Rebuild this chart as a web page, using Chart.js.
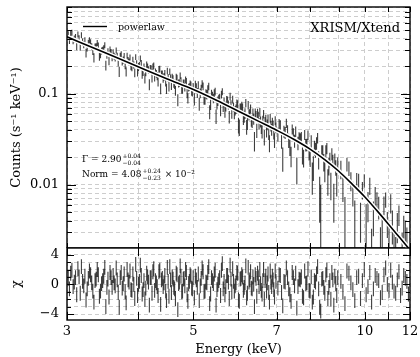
<!DOCTYPE html>
<html><head><meta charset="utf-8">
<script src="https://cdn.jsdelivr.net/npm/chart.js@4.4.1/dist/chart.umd.min.js"></script>
<style>
html,body{margin:0;padding:0;background:#fff;width:420px;height:357px;overflow:hidden}
#bot{position:absolute;left:0;top:240px}
#top{position:absolute;left:0;top:0}
</style></head><body>
<canvas id="bot" width="420" height="117"></canvas>
<canvas id="top" width="420" height="248"></canvas>
<script>
// ---- data; bins listed as two interleaved channel groups ----
const energy = [3.015,3.045,3.075,3.105,3.135,3.165,3.195,3.225,3.255,3.285,3.315,3.345,3.375,3.405,3.435,3.465,3.495,3.525,3.555,3.585,3.615,3.645,3.675,3.705,3.735,3.765,3.795,3.825,3.855,3.885,3.915,3.945,3.975,4.005,4.035,4.065,4.095,4.125,4.155,4.185,4.215,4.245,4.275,4.305,4.335,4.365,4.395,4.425,4.455,4.485,4.515,4.545,4.575,4.605,4.635,4.665,4.695,4.725,4.755,4.785,4.815,4.845,4.875,4.905,4.935,4.965,4.995,
5.02,5.06,5.10,5.14,5.18,5.22,5.26,5.30,5.34,5.38,5.42,5.46,5.50,5.54,5.58,5.62,5.66,5.70,5.74,5.78,5.82,5.86,5.90,5.94,5.98,6.02,6.06,6.10,6.14,6.18,6.22,6.26,6.30,6.34,6.38,6.42,6.46,6.50,6.54,6.58,6.62,6.66,6.70,6.74,6.78,6.82,6.86,6.90,6.94,6.98,
7.035,7.105,7.175,7.245,7.315,7.385,7.455,7.525,7.595,7.665,7.735,7.805,7.875,7.945,8.015,8.085,8.155,8.225,8.295,8.365,8.435,8.505,8.575,8.645,8.715,8.785,8.855,8.925,
9.075,9.225,9.375,9.525,9.675,9.825,9.975,10.125,10.275,10.425,10.575,10.725,10.875,11.025,11.175,11.325,11.475,11.625,11.775,11.925,
3.03,3.06,3.09,3.12,3.15,3.18,3.21,3.24,3.27,3.30,3.33,3.36,3.39,3.42,3.45,3.48,3.51,3.54,3.57,3.60,3.63,3.66,3.69,3.72,3.75,3.78,3.81,3.84,3.87,3.90,3.93,3.96,3.99,4.02,4.05,4.08,4.11,4.14,4.17,4.20,4.23,4.26,4.29,4.32,4.35,4.38,4.41,4.44,4.47,4.50,4.53,4.56,4.59,4.62,4.65,4.68,4.71,4.74,4.77,4.80,4.83,4.86,4.89,4.92,4.95,4.98,
5.04,5.08,5.12,5.16,5.20,5.24,5.28,5.32,5.36,5.40,5.44,5.48,5.52,5.56,5.60,5.64,5.68,5.72,5.76,5.80,5.84,5.88,5.92,5.96,6.00,6.04,6.08,6.12,6.16,6.20,6.24,6.28,6.32,6.36,6.40,6.44,6.48,6.52,6.56,6.60,6.64,6.68,6.72,6.76,6.80,6.84,6.88,6.92,6.96,
7.07,7.14,7.21,7.28,7.35,7.42,7.49,7.56,7.63,7.70,7.77,7.84,7.91,7.98,8.05,8.12,8.19,8.26,8.33,8.40,8.47,8.54,8.61,8.68,8.75,8.82,8.89,8.96,
9.15,9.30,9.45,9.60,9.75,9.90,10.05,10.20,10.35,10.50,10.65,10.80,10.95,11.10,11.25,11.40,11.55,11.70,11.85];

const rate = [0.448,0.462,0.386,0.419,0.449,0.329,0.372,0.385,0.323,0.387,0.331,0.249,0.330,0.339,0.273,0.303,0.342,0.267,0.229,0.286,0.286,0.249,0.261,0.175,0.272,0.235,0.207,0.263,0.224,0.200,0.236,0.170,0.216,0.198,0.244,0.165,0.196,0.174,0.197,0.127,0.188,0.198,0.153,0.166,0.136,0.187,0.164,0.147,0.167,0.114,0.150,0.175,0.124,0.146,0.126,0.152,0.0857,0.131,0.139,0.112,0.131,0.143,0.101,0.117,0.128,0.106,0.120,
0.0877,0.1171,0.1245,0.1015,0.1284,0.0872,0.1003,0.1126,0.0634,0.0998,0.0891,0.1057,0.0771,0.0872,0.0660,0.1053,0.0808,0.0727,0.0843,0.0557,0.0764,0.0865,0.0603,0.0679,0.0766,0.0431,0.0693,0.0695,0.0564,0.0790,0.0477,0.0586,0.0682,0.0495,0.0530,0.0615,0.0396,0.0563,0.0627,0.0426,0.0504,0.0333,0.0524,0.0458,0.0371,0.0538,0.0404,0.0450,0.0310,0.0422,
0.0359,0.0451,0.0197,0.0373,0.0395,0.0259,0.0407,0.0304,0.0149,0.0329,0.0333,0.0198,0.0274,0.0350,0.0207,0.0126,0.0256,0.0287,0.0189,0.00577,0.0230,0.0144,0.0251,0.0161,0.0101,0.0180,0.0189,0.0104,
0.01482,0.00427,0.01517,0.00823,0.01106,0.00429,0.0111,0.00605,0.00126,0.00759,0.00571,0.00281,0.00685,0.00228,0.00368,0.00135,0.00469,0.00187,0.00298,0.00083,
0.390,0.471,0.403,0.334,0.407,0.443,0.349,0.281,0.362,0.368,0.295,0.328,0.362,0.257,0.296,0.315,0.205,0.291,0.306,0.252,0.260,0.300,0.221,0.260,0.225,0.259,0.175,0.233,0.251,0.196,0.207,0.253,0.173,0.204,0.215,0.175,0.148,0.208,0.183,0.190,0.150,0.203,0.173,0.157,0.186,0.114,0.165,0.154,0.135,0.178,0.120,0.149,0.152,0.130,0.108,0.148,0.130,0.158,0.112,0.131,0.118,0.137,0.0896,0.119,0.125,0.104,
0.1251,0.1027,0.0775,0.1127,0.1209,0.0874,0.0980,0.1203,0.0770,0.0944,0.1017,0.0566,0.0833,0.0902,0.0979,0.0724,0.0635,0.0853,0.0755,0.0935,0.0614,0.0717,0.0654,0.0782,0.0454,0.0692,0.0729,0.0536,0.0608,0.0433,0.0751,0.0604,0.0508,0.0610,0.0305,0.0573,0.0611,0.0474,0.0492,0.0389,0.0598,0.0491,0.0393,0.0529,0.0288,0.0444,0.0484,0.0371,0.0506,
0.0464,0.0307,0.0385,0.0475,0.0307,0.0208,0.0365,0.0384,0.0287,0.0320,0.0211,0.0353,0.0275,0.0225,0.0298,0.0157,0.0243,0.0326,0.0080,0.0230,0.0178,0.0234,0.0111,0.0189,0.0218,0.0070,0.0155,0.0171,
0.00962,0.01683,0.01103,0.00428,0.01097,0.00876,0.00380,0.00975,0.00460,0.00653,0.00189,0.00599,0.00377,0.00631,0.00184,0.00356,0.00082,0.00354,0.00247];

const rateErr = [0.038,0.037,0.036,0.035,0.034,0.033,0.032,0.032,0.031,0.030,0.029,0.029,0.028,0.027,0.027,0.026,0.026,0.025,0.024,0.024,0.023,0.023,0.022,0.022,0.021,0.021,0.021,0.020,0.020,0.019,0.019,0.018,0.018,
0.0198,0.0194,0.0190,0.0186,0.0183,0.0179,0.0176,0.0172,0.0169,0.0166,0.0163,0.0160,0.0157,0.0155,0.0152,0.0149,0.0146,0.0144,0.0141,0.0139,0.0137,0.0134,0.0132,0.0130,0.0128,0.0125,0.0123,0.0121,0.0119,0.0117,0.0115,0.0114,0.0112,0.0110,
0.0134,0.0131,0.0128,0.0125,0.0122,0.0119,0.0116,0.0113,0.0111,0.0108,0.0106,0.0103,0.0101,0.0099,0.0097,0.0095,0.0093,0.0090,0.0088,0.0087,0.0085,0.0083,0.0081,0.0080,0.0078,
0.0089,0.0087,0.0085,0.0084,0.0082,0.0080,0.0079,0.0077,0.0076,0.0074,0.0073,0.0071,0.0070,0.0069,0.0067,0.0066,0.0065,0.0064,0.0062,0.0061,0.0060,0.0059,0.0058,0.0057,0.0056,
0.0062,0.0060,0.0059,0.0057,0.0055,0.0053,0.0052,0.0050,0.0049,0.0047,0.0046,0.0044,0.0043,0.0042,
0.0051,0.0049,0.0047,0.0045,0.0043,0.0041,0.0040,0.0038,0.0036,0.0035,0.0034,0.0032,0.0031,0.0030,
0.0034,0.0030,0.0028,0.0025,0.0023,0.0020,0.0019,0.0022,0.0020,0.0018,0.0016,0.0015,0.0013,0.0016,0.0015,0.0013,0.0012,0.0011,0.0010,0.0009,
0.037,0.036,0.035,0.034,0.034,0.033,0.032,0.031,0.030,0.030,0.029,0.028,0.028,0.027,0.026,0.026,0.025,0.025,0.024,0.024,0.023,0.023,0.022,0.022,0.021,0.021,0.020,0.020,0.019,0.019,0.019,0.018,0.018,
0.0196,0.0192,0.0188,0.0185,0.0181,0.0178,0.0174,0.0171,0.0168,0.0165,0.0162,0.0159,0.0156,0.0153,0.0151,0.0148,0.0145,0.0143,0.0140,0.0138,0.0136,0.0133,0.0131,0.0129,0.0127,0.0125,0.0122,0.0120,0.0118,0.0116,0.0115,0.0113,0.0111,
0.0133,0.0129,0.0126,0.0123,0.0120,0.0118,0.0115,0.0112,0.0109,0.0107,0.0105,0.0102,0.0100,0.0098,0.0096,0.0094,0.0092,0.0090,0.0087,0.0086,0.0084,0.0082,0.0080,0.0079,
0.0090,0.0088,0.0086,0.0085,0.0083,0.0081,0.0080,0.0078,0.0076,0.0075,0.0074,0.0072,0.0071,0.0069,0.0068,0.0067,0.0065,0.0064,0.0063,0.0062,0.0061,0.0060,0.0059,0.0058,0.0057,
0.0061,0.0060,0.0058,0.0056,0.0054,0.0053,0.0051,0.0050,0.0048,0.0047,0.0045,0.0044,0.0043,0.0041,
0.0050,0.0048,0.0046,0.0044,0.0042,0.0040,0.0039,0.0037,0.0036,0.0034,0.0033,0.0032,0.0030,0.0029,
0.0032,0.0029,0.0026,0.0024,0.0022,0.0019,0.0023,0.0021,0.0019,0.0017,0.0015,0.0014,0.0012,0.0015,0.0014,0.0013,0.0011,0.0010,0.0009];

const chi = [0.8,1.5,-0.3,0.9,2.1,-1.2,0.4,1.1,-0.6,1.8,0.2,-2.4,0.7,1.3,-0.9,0.5,2.3,-0.4,-1.7,0.9,
1.2,-0.2,0.6,-3.1,1.6,0.1,-1.0,2.0,0.3,-0.7,1.4,-1.9,0.8,0.0,2.6,-1.3,0.5,-0.5,1.0,-2.8,
0.9,1.7,-0.8,0.2,-1.5,1.9,0.6,-0.3,1.2,-2.2,0.4,2.4,-1.1,0.7,-0.6,1.5,-3.4,0.3,1.1,-0.9,
0.8,2.0,-1.4,0.1,1.3,-0.5,0.9,
-1.8,0.6,1.4,-0.2,2.2,-1.0,0.3,1.6,-2.6,0.9,0.1,1.9,-0.7,0.5,-1.5,2.8,0.4,-0.3,1.2,-1.9,
0.7,2.1,-0.9,0.2,1.5,-2.3,0.8,1.0,-0.4,2.5,-1.2,0.3,1.7,-0.6,0.0,1.3,-1.6,0.9,2.0,-0.8,
0.5,-2.0,1.1,0.2,-1.1,1.8,-0.3,0.6,-1.7,0.4,
-0.5,1.2,-2.9,0.3,0.9,-1.4,1.6,-0.2,-3.2,0.7,1.0,-1.8,0.1,2.1,-0.9,-2.4,0.5,1.4,-0.6,-3.6,
0.8,-1.2,1.9,-0.4,-2.0,0.6,1.1,-1.5,
0.4,-2.6,1.5,-0.7,0.9,-1.9,2.0,-0.3,-2.4,1.2,0.5,-1.1,2.2,-0.8,0.3,-1.2,1.7,-0.5,0.8,-1.3,
-0.6,1.9,0.3,-1.4,1.0,2.4,-0.2,-2.1,0.8,1.3,-0.9,0.5,2.0,-1.6,0.1,1.1,-3.0,0.7,1.6,-0.4,
0.2,2.2,-1.1,0.9,-0.5,1.4,-2.5,0.6,1.8,-0.8,0.0,2.7,-1.5,0.4,1.2,-0.7,-2.0,1.5,0.3,0.9,
-1.2,2.1,0.5,-0.3,1.7,-2.7,0.8,0.2,-0.9,2.3,-1.6,0.6,1.0,-0.4,-1.9,1.3,0.1,2.5,-1.0,0.7,
-0.2,1.6,-2.3,0.4,1.1,-0.6,
1.1,-0.4,-2.2,0.8,1.7,-0.9,0.2,2.4,-1.3,0.5,1.4,-2.8,0.0,0.9,1.9,-0.6,-1.4,1.2,0.3,2.6,
-1.0,0.4,-0.2,1.6,-2.1,0.7,1.3,-0.8,0.2,-1.8,2.3,0.6,-0.5,1.0,-3.0,0.8,1.5,-0.3,0.1,-1.3,
2.0,0.5,-0.9,1.4,-2.4,0.3,1.1,-0.7,1.8,
1.3,-1.1,0.4,2.2,-0.6,-2.3,0.9,1.5,-0.3,0.6,-1.6,1.8,0.2,-0.8,1.0,-1.7,0.3,2.4,-3.1,0.7,
-0.4,1.3,-1.9,0.5,1.6,-2.8,0.1,0.9,
-1.0,1.8,0.2,-2.2,1.1,0.5,-1.4,1.6,-0.6,0.8,-1.8,1.3,0.0,1.9,-0.9,0.6,-1.5,1.2,0.4];

const modelEnergy = [3.0,3.5,4.0,4.5,5.0,5.5,6.0,6.5,7.0,7.5,8.0,8.5,9.0,9.5,10.0,10.5,11.0,11.5,12.0];
const modelRate   = [0.423,0.2815,0.198,0.145,0.111,0.0841,0.0641,0.0499,0.0396,0.0315,0.0247,0.0188,0.0140,0.0101,0.0073,0.00516,0.00366,0.00262,0.0019];

const xTickValues  = [3,4,5,6,7,8,9,10,11,12];
const xLabelValues = [3,5,7,10,12];
const yTickValues  = [0.002,0.003,0.004,0.005,0.006,0.007,0.008,0.009,0.01,0.02,0.03,0.04,0.05,0.06,0.07,0.08,0.09,0.1,0.2,0.3,0.4,0.5,0.6,0.7,0.8,0.9];
const yLabelValues = [0.01,0.1];
const yLabels      = ['0.01','0.1'];
const chiTickValues  = [-4,-3,-2,-1,0,1,2,3,4];
const chiLabelValues = [-4,0,4];
const chiLabels      = ['\u22124','0','4'];

// ---- helpers ----
const FONT = "'DejaVu Serif', serif";
Chart.defaults.font.family = FONT;
Chart.defaults.color = '#000';

function bars(lo, hi){
  const out = [];
  for (let i = 0; i < energy.length; i++){
    out.push({x: energy[i], y: lo[i]}, {x: energy[i], y: hi[i]}, {x: energy[i], y: null});
  }
  return out;
}
function near(a, b){ return Math.abs(a - b) < 1e-9; }
function labelFor(vals, labels){
  return v => { const i = vals.findIndex(t => near(t, v)); return i >= 0 ? labels[i] : ''; };
}
function setTicks(vals){ return s => { s.ticks = vals.map(v => ({value: v})); }; }

const frameTicks = {
  id: 'frameTicks',
  afterDraw(chart, args, o){
    const {ctx, chartArea: a, scales} = chart;
    ctx.save();
    ctx.strokeStyle = '#000';
    ctx.lineWidth = 1;
    const ln = (x1,y1,x2,y2) => { ctx.beginPath(); ctx.moveTo(x1,y1); ctx.lineTo(x2,y2); ctx.stroke(); };
    o.xTicks.forEach(v => {
      const p = Math.round(scales.x.getPixelForValue(v)) + 0.5;
      ln(p, a.top, p, a.top + o.xLen); ln(p, a.bottom, p, a.bottom - o.xLen);
    });
    o.yTicks.forEach(v => {
      const p = Math.round(scales.y.getPixelForValue(v)) + 0.5;
      const L = o.yMajor.some(m => near(m, v)) ? o.yLong : o.yShort;
      ln(a.left, p, a.left + L, p); ln(a.right, p, a.right - L, p);
    });
    ctx.lineWidth = 1.4;
    ctx.strokeRect(a.left, a.top, a.right - a.left, a.bottom - a.top);
    ctx.restore();
  }
};

function script(ctx, main, sup, sub, tail, x, y){
  ctx.font = "9px " + FONT; ctx.fillText(main, x, y);
  const w = ctx.measureText(main).width;
  ctx.font = "6px " + FONT;
  ctx.fillText(sup, x + w + 1, y - 4.5);
  ctx.fillText(sub, x + w + 1, y + 2.5);
  const sw = Math.max(ctx.measureText(sup).width, ctx.measureText(sub).width);
  if (tail){ ctx.font = "9px " + FONT; ctx.fillText(tail, x + w + sw + 2, y); }
}

const annot = {
  id: 'annot',
  afterDraw(chart){
    const {ctx, chartArea: a} = chart;
    ctx.save();
    ctx.fillStyle = '#000'; ctx.strokeStyle = '#000';
    ctx.lineWidth = 1.4;
    ctx.beginPath(); ctx.moveTo(a.left + 16, 26.5); ctx.lineTo(a.left + 40, 26.5); ctx.stroke();
    ctx.textBaseline = 'alphabetic'; ctx.textAlign = 'left';
    ctx.font = "9.5px " + FONT;
    ctx.fillText('powerlaw', a.left + 51, 29.5);
    ctx.font = "13px " + FONT; ctx.textAlign = 'right';
    ctx.fillText('XRISM/Xtend', a.right - 10, 32);
    ctx.textAlign = 'left';
    script(ctx, '\u0393 = 2.90', '+0.04', '\u22120.04', '', a.left + 15, 162);
    script(ctx, 'Norm = 4.08', '+0.24', '\u22120.23', ' \u00d7 10\u207b\u00b2', a.left + 15, 177);
    ctx.restore();
  }
};

const gridOpts = {color: '#cdcdcd', lineWidth: 1, drawTicks: false};
const borderOpts = {display: false, dash: [4, 3]};
const barColor = 'rgba(20,20,20,0.82)';
const noPadX = s => { s.paddingLeft = 0; s.paddingRight = 0; };
const noPadY = s => { s.paddingTop = 0; s.paddingBottom = 0; };

// ---- top panel ----
const lo = rate.map((r, i) => Math.max(r - rateErr[i], 1e-4));
const hi = rate.map((r, i) => r + rateErr[i]);
const model = modelEnergy.map((e, i) => ({x: e, y: modelRate[i]}));

new Chart(document.getElementById('top'), {
  type: 'line',
  data: { datasets: [
    {data: model, borderColor: '#000', borderWidth: 1.6, pointRadius: 0, cubicInterpolationMode: 'monotone', order: 1, clip: 0},
    {data: model, borderColor: '#fff', borderWidth: 4.5, pointRadius: 0, cubicInterpolationMode: 'monotone', order: 2, clip: 0},
    {data: bars(lo, hi), borderColor: barColor, borderWidth: 1.1, pointRadius: 0, spanGaps: false, order: 3, clip: 0}
  ]},
  options: {
    responsive: false, animation: false, devicePixelRatio: 1,
    layout: {autoPadding: false, padding: {left: 0, right: 10, top: 7, bottom: 0}},
    plugins: {legend: {display: false}, tooltip: {enabled: false},
      frameTicks: {xTicks: xTickValues, xLen: 5, yTicks: yTickValues, yMajor: yLabelValues, yLong: 9, yShort: 5}},
    scales: {
      x: {type: 'logarithmic', min: 3, max: 12, afterBuildTicks: setTicks(xTickValues),
          afterFit: s => { s.height = 0; noPadX(s); }, ticks: {display: false}, grid: gridOpts, border: borderOpts},
      y: {type: 'logarithmic', min: 0.002, max: 0.9, afterBuildTicks: setTicks(yTickValues),
          afterFit: s => { s.width = 67; noPadY(s); },
          ticks: {callback: labelFor(yLabelValues, yLabels), autoSkip: false, padding: 8, font: {size: 13}, color: '#000'},
          title: {display: true, text: 'Counts (s\u207b\u00b9 keV\u207b\u00b9)', font: {size: 13}, color: '#000', padding: {top: 9, bottom: 0}},
          grid: gridOpts, border: borderOpts}
    }
  },
  plugins: [frameTicks, annot]
});

// ---- residual panel ----
new Chart(document.getElementById('bot'), {
  type: 'line',
  data: { datasets: [
    {data: bars(chi.map(c => c - 1), chi.map(c => c + 1)), borderColor: barColor, borderWidth: 1.1, pointRadius: 0, spanGaps: false, clip: 0}
  ]},
  options: {
    responsive: false, animation: false, devicePixelRatio: 1,
    layout: {autoPadding: false, padding: {left: 0, right: 10, top: 8, bottom: 0}},
    plugins: {legend: {display: false}, tooltip: {enabled: false},
      frameTicks: {xTicks: xTickValues, xLen: 8, yTicks: chiTickValues, yMajor: chiLabelValues, yLong: 7, yShort: 4}},
    scales: {
      x: {type: 'logarithmic', min: 3, max: 12, afterBuildTicks: setTicks(xTickValues),
          afterFit: s => { s.height = 37; noPadX(s); },
          ticks: {callback: labelFor(xLabelValues, xLabelValues.map(String)), autoSkip: false, maxRotation: 0, padding: 4, font: {size: 13}, color: '#000'},
          title: {display: true, text: 'Energy (keV)', font: {size: 13}, color: '#000', padding: {top: 0, bottom: 0}},
          grid: gridOpts, border: borderOpts},
      y: {type: 'linear', min: -4.8, max: 4.9, afterBuildTicks: setTicks(chiTickValues),
          afterFit: s => { s.width = 67; noPadY(s); },
          ticks: {callback: labelFor(chiLabelValues, chiLabels), autoSkip: false, padding: 8, font: {size: 13}, color: '#000'},
          title: {display: true, text: '\u03c7', font: {size: 13}, color: '#000', padding: {top: 9, bottom: 0}},
          grid: gridOpts, border: borderOpts}
    }
  },
  plugins: [frameTicks]
});
</script></body></html>
